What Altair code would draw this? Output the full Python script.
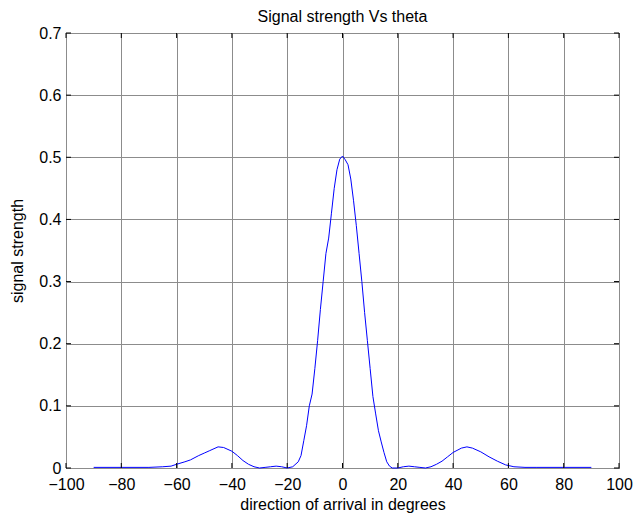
import altair as alt
import pandas as pd

# Beam response: direction of arrival (degrees) vs normalised signal strength
theta = [-90, -80, -70, -65, -62, -60, -57, -55, -52, -50, -48, -45, -43, -40,
         -38, -36, -34, -32, -30, -28, -26, -24, -22, -20, -18, -16, -15, -14,
         -13, -12, -11, -10, -9, -8, -7, -6, -5, -4, -3, -2, -1, 0,
         1, 2, 3, 4, 5, 6, 7, 8, 9, 10, 11, 12, 13, 14, 15, 16, 17, 18,
         20, 22, 24, 26, 28, 30, 32, 34, 36, 38, 40, 43, 45, 47, 50, 53,
         56, 59, 62, 66, 70, 80, 90]
strength = [0.001, 0.001, 0.001, 0.002, 0.003, 0.006, 0.010, 0.013, 0.020, 0.024,
            0.028, 0.034, 0.033, 0.027, 0.020, 0.012, 0.006, 0.002, 0.000, 0.001,
            0.002, 0.003, 0.002, 0.000, 0.002, 0.010, 0.020, 0.044, 0.068, 0.100,
            0.119, 0.160, 0.205, 0.255, 0.300, 0.345, 0.370, 0.410, 0.450, 0.480,
            0.497, 0.502,
            0.496, 0.488, 0.465, 0.430, 0.390, 0.345, 0.300, 0.250, 0.205, 0.160,
            0.115, 0.087, 0.060, 0.042, 0.025, 0.010, 0.003, 0.000,
            0.000, 0.002, 0.003, 0.002, 0.001, 0.000, 0.002, 0.006, 0.011, 0.018,
            0.025, 0.032, 0.034, 0.032, 0.026, 0.018, 0.011, 0.005, 0.002, 0.001,
            0.001, 0.001, 0.001]

x_ticks = [-100, -80, -60, -40, -20, 0, 20, 40, 60, 80, 100]
y_ticks = [0, 0.1, 0.2, 0.3, 0.4, 0.5, 0.6, 0.7]

W, H = 553, 435
FONT = "Liberation Sans"
FS = 16

df = pd.DataFrame({"theta": theta, "strength": strength})
xt = pd.DataFrame({"theta": x_ticks})
yt = pd.DataFrame({"strength": y_ticks})

xs = alt.Scale(domain=[-100, 100], nice=False, zero=False)
ys = alt.Scale(domain=[0, 0.7], nice=False, zero=False)

x_axis = alt.Axis(values=x_ticks, title="direction of arrival in degrees",
                  grid=True, gridColor="#8c8c8c", gridWidth=1,
                  ticks=False, domain=False, labelPadding=8,
                  labelFontSize=FS, labelFont=FONT, labelColor="#000000",
                  titleFontSize=FS, titleFont=FONT, titleColor="#000000",
                  titleFontWeight="normal", titlePadding=4,
                  labelFlush=False, labelOverlap=False)
y_axis = alt.Axis(values=y_ticks, title="signal strength", format=".1~f",
                  grid=True, gridColor="#8c8c8c", gridWidth=1,
                  ticks=False, domain=False, labelPadding=5,
                  labelFontSize=FS, labelFont=FONT, labelColor="#000000",
                  titleFontSize=FS, titleFont=FONT, titleColor="#000000",
                  titleFontWeight="normal", titlePadding=13,
                  labelFlush=False, labelOverlap=False)

line = alt.Chart(df).mark_line(color="#0000ff", strokeWidth=1).encode(
    x=alt.X("theta:Q", scale=xs, axis=x_axis),
    y=alt.Y("strength:Q", scale=ys, axis=y_axis),
)

# inward tick marks on all four sides
tick_style = dict(color="#000000", strokeWidth=1)
bottom_ticks = alt.Chart(xt).mark_rule(**tick_style).encode(
    x=alt.X("theta:Q", scale=xs, axis=x_axis), y=alt.value(H), y2=alt.value(H - 5))
top_ticks = alt.Chart(xt).mark_rule(**tick_style).encode(
    x=alt.X("theta:Q", scale=xs, axis=x_axis), y=alt.value(0), y2=alt.value(5))
left_ticks = alt.Chart(yt).mark_rule(**tick_style).encode(
    y=alt.Y("strength:Q", scale=ys, axis=y_axis), x=alt.value(0), x2=alt.value(5))
right_ticks = alt.Chart(yt).mark_rule(**tick_style).encode(
    y=alt.Y("strength:Q", scale=ys, axis=y_axis), x=alt.value(W), x2=alt.value(W - 5))

chart = alt.layer(line, bottom_ticks, top_ticks, left_ticks, right_ticks).properties(
    width=W, height=H,
    background="#ffffff",
    title=alt.TitleParams("Signal strength Vs theta", fontSize=FS, font=FONT,
                          fontWeight="normal", color="#000000", offset=0),
    autosize=alt.AutoSizeParams(type="none"),
    padding={"left": 66, "top": 33, "right": 16, "bottom": 48},
).configure_view(
    stroke="#000000", strokeWidth=1
)

chart.save("out.html", embed_options={"renderer": "svg", "actions": False})
